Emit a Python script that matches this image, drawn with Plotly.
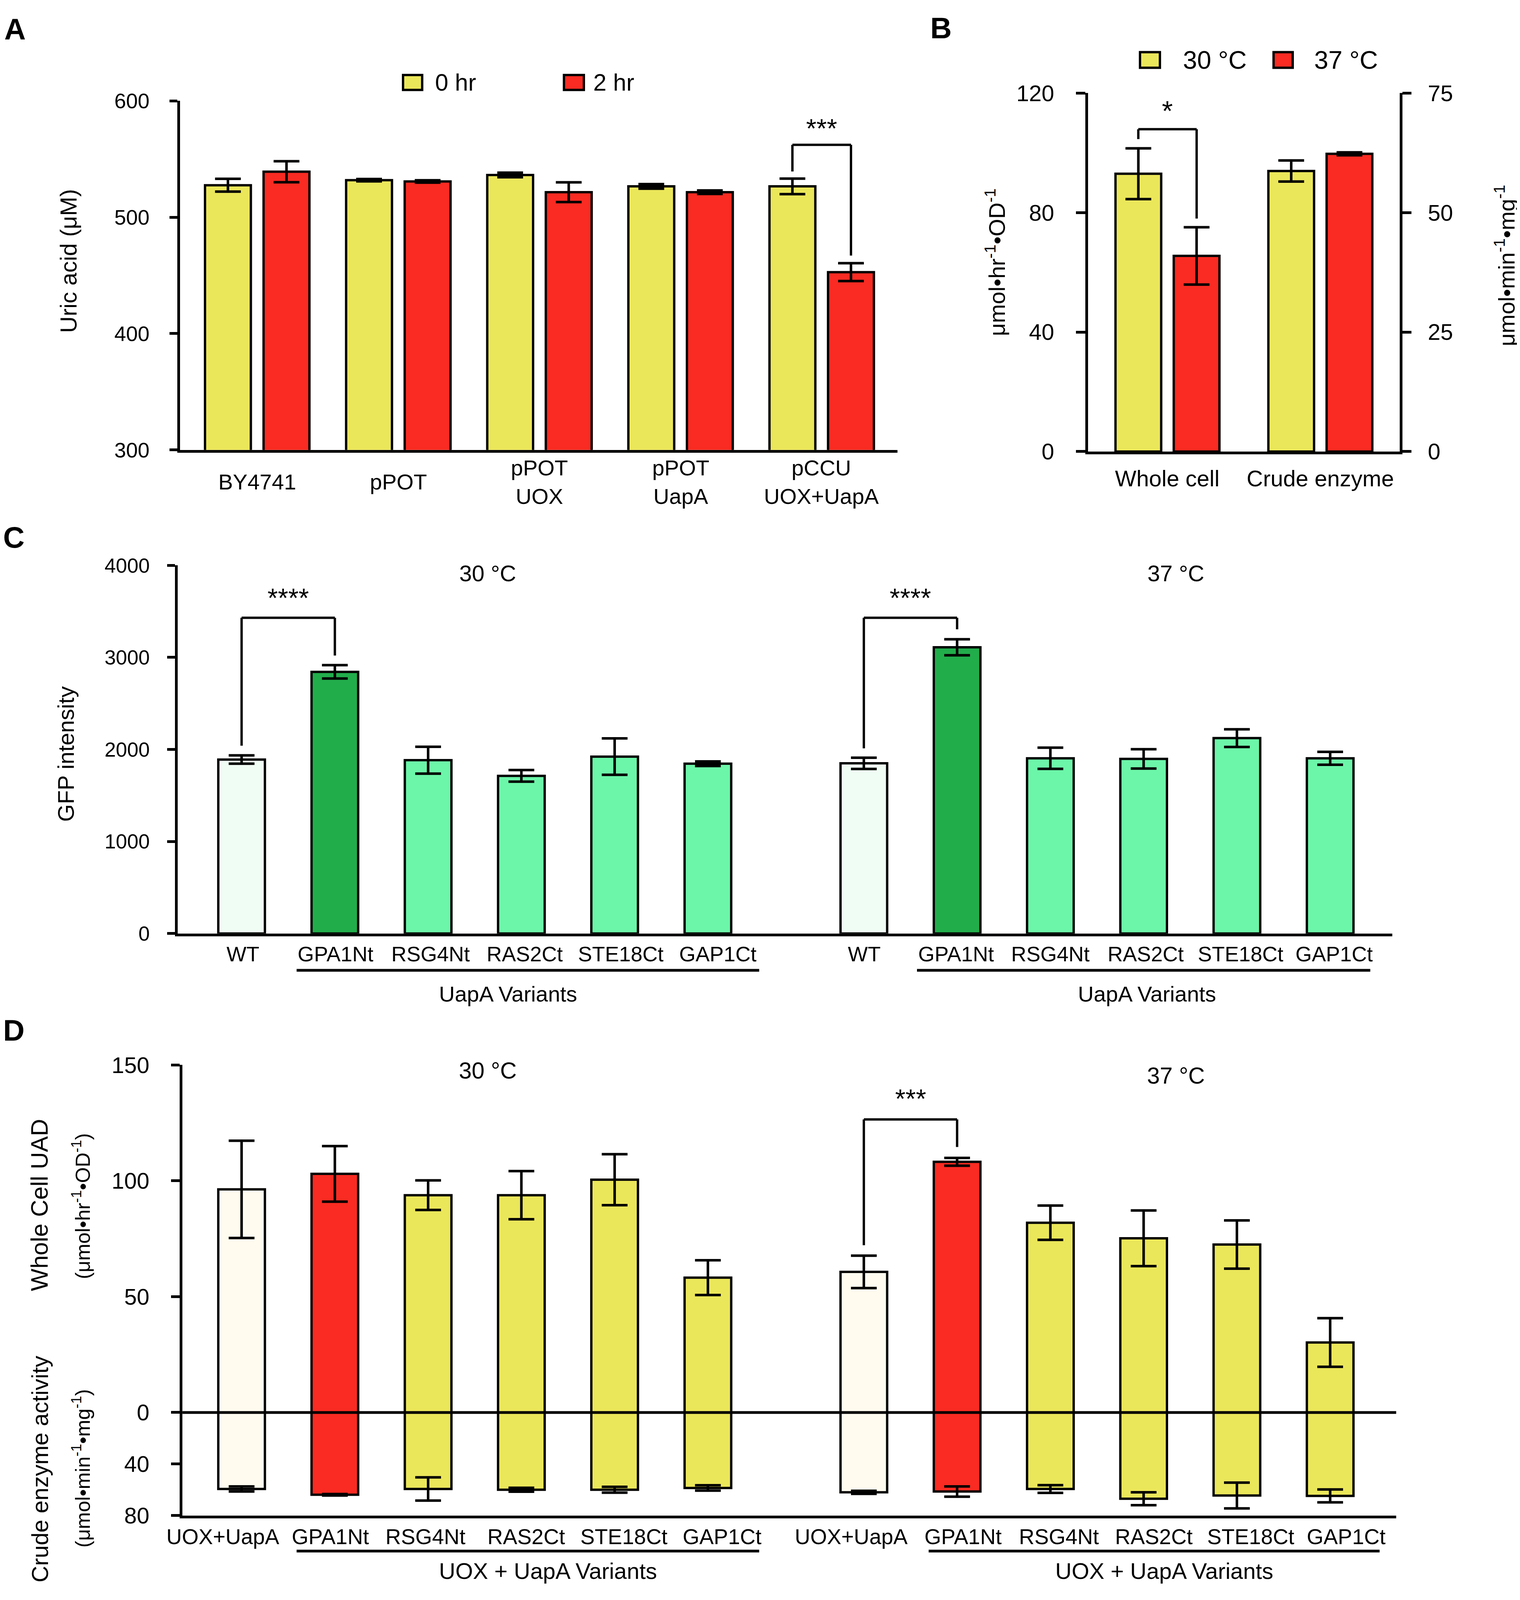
import plotly.graph_objects as go

# layout is measured on the 3892 x 4942 reference; the page is drawn a bit
# shorter so that the whole figure stays inside the photographed area
W, H_REF = 3892, 4942
H = 4080
FS = 0.9  # font scale for the shorter page
FONT = "Liberation Sans, Arial, sans-serif"
YELLOW = "#EBE75A"
RED = "#F92B22"
PALE_GREEN = "#F0FDF4"
DARK_GREEN = "#22AD4B"
MINT = "#6CF6A9"
CREAM = "#FFFCEF"
LW = 6

# panel A - uric acid in medium (uM)
a_strains = ["BY4741", "pPOT", "pPOT<br>UOX", "pPOT<br>UapA", "pCCU<br>UOX+UapA"]
a_0hr = [527.5, 531.8, 536.3, 526.5, 526.5]
a_0hr_err = [5.5, 1.0, 2.0, 2.0, 6.7]
a_2hr = [539.1, 530.7, 521.5, 521.5, 452.8]
a_2hr_err = [9.0, 1.0, 8.5, 1.5, 7.7]

# panel B - whole cell (left axis) and crude enzyme (right axis), 30 / 37 C
b_groups = ["Whole cell", "Crude enzyme"]
b_whole = [93.0, 65.5]
b_whole_err = [8.5, 9.6]
b_crude = [58.7, 62.3]
b_crude_err = [2.2, 0.3]

# panel C - GFP intensity
c_variants = ["WT", "GPA1Nt", "RSG4Nt", "RAS2Ct", "STE18Ct", "GAP1Ct"]
c_30 = [1890, 2843, 1883, 1713, 1922, 1845]
c_30_err = [45, 73, 146, 63, 198, 25]
c_37 = [1849, 3110, 1904, 1897, 2123, 1904]
c_37_err = [61, 87, 115, 105, 96, 70]

# panel D - whole cell UAD (up) and crude enzyme activity (down)
d_variants = ["UOX+UapA", "GPA1Nt", "RSG4Nt", "RAS2Ct", "STE18Ct", "GAP1Ct"]
d_cell_30 = [96.3, 103.0, 93.8, 93.8, 100.5, 58.2]
d_cell_30_err = [21, 12, 6.4, 10.4, 11, 7.5]
d_cell_37 = [60.7, 108.2, 81.9, 75.2, 72.5, 30.2]
d_cell_37_err = [7, 1.7, 7.4, 12, 10.4, 10.5]
d_crude_30 = [59.4, 63.9, 59.4, 60.0, 60.0, 58.6]
d_crude_30_err = [2, 0.6, 9, 1.5, 2.3, 2.1]
d_crude_37 = [62.0, 61.4, 59.4, 67.0, 64.5, 64.8]
d_crude_37_err = [1.2, 4, 3, 5, 10, 5]

# significance brackets: (top, left foot, right foot, star height, label)
sig_a = (562.2, 539.3, 467.0, 576.5, "***")
sig_b = (107.9, 104.6, 78.0, 114.0, "*")
sig_c30 = (3430, 2040, 3020, 3650, "****")
sig_c37 = (3430, 2012, 3305, 3650, "****")
sig_d37 = (126.5, 72.2, 114.6, 135.5, "***")

# small horizontal nudges (px) of the category labels, as in the reference
c_shift_30 = [3, 2, 6, 8, 16, 25]
c_shift_37 = [1, -3, 0, 5, 9, 10]
d_shift_30 = [-48, -11, -7, 12, 24, 36]
d_shift_37 = [-32, 15, 22, 26, 35, 41]


def px(x):
    return x / W


def py(y):
    return 1 - y / H_REF


def fs(size):
    return round(size * FS)


def bar(x, y, err, color, xa, ya, width, offset=None):
    return go.Bar(
        x=x, y=y, width=width, offset=offset,
        marker=dict(color=color, line=dict(color="black", width=LW)),
        error_y=dict(type="data", array=err, visible=True, color="black",
                     thickness=6.5, width=33),
        xaxis=xa, yaxis=ya, showlegend=False,
    )


fig = go.Figure()

# A
fig.add_trace(bar(a_strains, a_0hr, a_0hr_err, YELLOW, "x", "y", 0.325, -0.37))
fig.add_trace(bar(a_strains, a_2hr, a_2hr_err, RED, "x", "y", 0.325, 0.045))

# B
fig.add_trace(bar([b_groups[0]] * 2, b_whole, b_whole_err, [YELLOW, RED],
                  "x2", "y2", 0.299, [-0.34, 0.041]))
fig.add_trace(bar([b_groups[1]] * 2, b_crude, b_crude_err, [YELLOW, RED],
                  "x2", "y3", 0.299, [-0.34, 0.041]))

# C
c_colors = [PALE_GREEN, DARK_GREEN] + [MINT] * 4
fig.add_trace(bar(c_variants, c_30, c_30_err, c_colors, "x3", "y4", 0.5))
fig.add_trace(bar(c_variants, c_37, c_37_err, c_colors, "x4", "y4", 0.5))

# D
d_colors = [CREAM, RED] + [YELLOW] * 4
fig.add_trace(bar(d_variants, d_cell_30, d_cell_30_err, d_colors, "x5", "y5", 0.5))
fig.add_trace(bar(d_variants, d_cell_37, d_cell_37_err, d_colors, "x6", "y5", 0.5))
fig.add_trace(bar(d_variants, d_crude_30, d_crude_30_err, d_colors, "x5", "y6", 0.5))
fig.add_trace(bar(d_variants, d_crude_37, d_crude_37_err, d_colors, "x6", "y6", 0.5))


def xax(domain, rng, anchor, cats):
    return dict(domain=domain, range=rng, anchor=anchor, type="category",
                categoryorder="array", categoryarray=cats,
                showline=True, linecolor="black", linewidth=7, ticks="",
                showticklabels=False, showgrid=False, zeroline=False, fixedrange=True)


def yax(domain, rng, anchor, tickvals, size, ticklen, standoff, **kw):
    d = dict(domain=domain, range=rng, anchor=anchor, tickvals=tickvals,
             showline=True, linecolor="black", linewidth=7, ticks="outside",
             ticklen=ticklen, tickwidth=7, tickcolor="black",
             tickfont=dict(family=FONT, size=fs(size), color="black"),
             ticklabelstandoff=standoff,
             showgrid=False, zeroline=False, fixedrange=True)
    d.update(kw)
    return d


fig.update_layout(
    width=W, height=H, margin=dict(l=0, r=0, t=0, b=0),
    paper_bgcolor="white", plot_bgcolor="white", barmode="overlay",
    font=dict(family=FONT, color="black"),
    xaxis=xax([px(452.6), px(2290)], [-0.548, 4.537], "y", a_strains),
    yaxis=yax([py(1367.3), py(267.3)], [300, 600], "x", [300, 400, 500, 600], 60, 20, 40),
    xaxis2=xax([px(2777.8), px(3576.3)], [-0.52, 1.52], "y2", b_groups),
    yaxis2=yax([py(1372.4), py(242.9)], [0, 120], "x2", [0, 40, 80, 120], 64, 24, 44),
    yaxis3=yax([py(1372.4), py(242.9)], [0, 75], "x2", [0, 25, 50, 75], 64, 23, 30,
               overlaying="y2", side="right"),
    xaxis3=xax([px(446.8), px(2004)], [-0.686, 5.835], "y4", c_variants),
    xaxis4=xax([px(2004), px(3557)], [-0.837, 5.666], "y4", c_variants),
    yaxis4=yax([py(2891), py(1731)], [0, 4000], "x3", [0, 1000, 2000, 3000, 4000], 58, 20, 34),
    xaxis5=xax([px(459.2), px(2004)], [-0.634, 5.835], "y6", d_variants),
    xaxis6=xax([px(2004), px(3567)], [-0.837, 5.708], "y6", d_variants),
    yaxis5=yax([py(4400.3), py(3305.4)], [0, 150], "x5", [0, 50, 100, 150], 64, 22, 44),
    yaxis6=yax([py(4725), py(4400.3)], [80, 0], "x5", [40, 80], 64, 22, 44),
)

ann = []
shapes = []


def text(t, x, y, size, xref="paper", angle=0, xanchor="center", bold=False, xshift=0):
    if bold:
        t = "<b>" + t + "</b>"
    ann.append(dict(text=t, x=x, y=y, xref=xref, yref="paper", showarrow=False,
                    textangle=angle, xanchor=xanchor, yanchor="middle", xshift=xshift,
                    font=dict(family=FONT, size=fs(size), color="black")))


def bracket(xref, yref, xl, xr, sig, size):
    top, left, right, star, label = sig
    for x0, y0, x1, y1 in [(xl, left, xl, top), (xl, top, xr, top), (xr, top, xr, right)]:
        shapes.append(dict(type="line", xref=xref, yref=yref, x0=x0, y0=y0, x1=x1, y1=y1,
                           line=dict(color="black", width=6)))
    ann.append(dict(text=label, x=(xl + xr) / 2, y=star, xref=xref, yref=yref,
                    showarrow=False, xanchor="center", yanchor="middle",
                    font=dict(family=FONT, size=fs(size), color="black")))


def legend_box(x0, x1, y0, y1, color):
    shapes.append(dict(type="rect", xref="paper", yref="paper", x0=px(x0), x1=px(x1),
                       y0=py(y1), y1=py(y0), fillcolor=color,
                       line=dict(color="black", width=6)))


def hline(x0, x1, y, xref="paper", width=7):
    shapes.append(dict(type="line", xref=xref, yref="paper", x0=x0, x1=x1,
                       y0=py(y), y1=py(y), line=dict(color="black", width=width)))


# panel letters
text("A", px(30), py(41), 84, bold=True)
text("B", px(2401), py(38), 84, bold=True)
text("C", px(27), py(1643), 84, bold=True)
text("D", px(27), py(3196), 84, bold=True)

# A
legend_box(1024, 1073, 186, 233, YELLOW)
text("0 hr", px(1104), py(209), 68, xanchor="left")
legend_box(1436, 1487, 186, 233, RED)
text("2 hr", px(1509), py(209), 68, xanchor="left")
text("Uric acid (μM)", px(168), py(772), 66, angle=-90)
for s in a_strains:
    text(s, s, py(1468), 62, xref="x")
bracket("x", "y", 4 - 0.2075, 4 + 0.2075, sig_a, 76)

# B
legend_box(2911, 2962, 114, 163, YELLOW)
text("30 °C", px(3019), py(138), 72, xanchor="left")
legend_box(3253, 3302, 114, 163, RED)
text("37 °C", px(3355), py(138), 72, xanchor="left")
text("μmol•hr<sup>-1</sup>•OD<sup>-1</sup>", px(2540), py(776), 64, angle=-90)
text("μmol•min<sup>-1</sup>•mg<sup>-1</sup>", px(3845), py(786), 64, angle=-90)
for g in b_groups:
    text(g, g, py(1457), 64, xref="x2")
bracket("x2", "y2", -0.1908, 0.1908, sig_b, 80)

# C
text("30 °C", px(1241), py(1756), 64)
text("37 °C", px(3003), py(1756), 64)
text("GFP intensity", px(161), py(2326), 64, angle=-90)
for v, s30, s37 in zip(c_variants, c_shift_30, c_shift_37):
    text(v, v, py(2955.5), 60, xref="x3", xshift=s30)
    text(v, v, py(2955.5), 60, xref="x4", xshift=s37)
hline(0.59, 5.55, 3007, "x3")
hline(0.57, 5.43, 3007, "x4")
text("UapA Variants", px(1293), py(3081), 62)
text("UapA Variants", px(2929), py(3081), 62)
bracket("x3", "y4", 0, 1, sig_c30, 76)
bracket("x4", "y4", 0, 1, sig_c37, 76)

# D
hline(px(459.2), px(3567), 4400.3, width=7)
text("30 °C", px(1241), py(3324), 66)
text("37 °C", px(3003), py(3339), 66)
text("Whole Cell UAD", px(93), py(3747), 68, angle=-90)
text("(μmol•hr<sup>-1</sup>•OD<sup>-1</sup>)", px(200), py(3750), 58, angle=-90)
text("Crude enzyme activity", px(95), py(4579), 66, angle=-90)
text("(μmol•min<sup>-1</sup>•mg<sup>-1</sup>)", px(200), py(4576), 58, angle=-90)
for v, s30, s37 in zip(d_variants, d_shift_30, d_shift_37):
    text(v, v, py(4792), 61, xref="x5", xshift=s30)
    text(v, v, py(4792), 61, xref="x6", xshift=s37)
hline(0.59, 5.55, 4837, "x5")
hline(0.695, 5.53, 4837, "x6")
text("UOX + UapA Variants", px(1395), py(4900), 64)
text("UOX + UapA Variants", px(2973), py(4900), 64)
bracket("x6", "y5", 0, 1, sig_d37, 76)

fig.update_layout(annotations=ann, shapes=shapes)
fig.write_html("out.html")
